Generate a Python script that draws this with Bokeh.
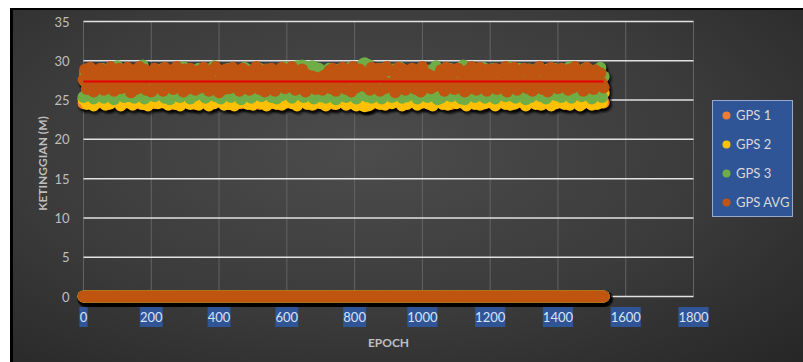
import math

from bokeh.plotting import figure
from bokeh.models import ColumnDataSource, Range1d, Legend, LegendItem
from bokeh.core.properties import value
from bokeh.transform import dodge
from bokeh.embed import file_html
from bokeh.resources import INLINE

# ---------------------------------------------------------------- data
# epoch index (every 5th epoch of the session)
epoch = list(range(0, 1540, 5))

gps1 = [
    24.6, 28.2, 26.0, 25.1, 27.5, 28.9, 24.8, 26.6, 27.8, 25.4, 24.7, 28.5, 26.3, 25.0,
    27.2, 24.5, 28.7, 25.8, 26.9, 24.9, 27.6, 28.4, 25.2, 24.6, 26.5, 28.0, 25.5, 24.8,
    28.6, 26.2, 24.7, 27.3, 25.6, 28.8, 24.5, 26.8, 27.9, 25.0, 24.9, 28.3, 26.4, 25.3,
    24.6, 27.7, 28.5, 25.2, 26.1, 24.8, 28.9, 27.0, 25.7, 24.5, 26.7, 28.1, 25.1, 24.7,
    27.4, 28.6, 25.4, 24.9, 26.3, 27.9, 24.6, 25.9, 28.4, 26.6, 24.5, 27.1, 28.7, 25.3,
    24.8, 26.5, 27.8, 25.0, 24.6, 28.2, 26.9, 25.5, 24.7, 27.5, 28.8, 25.8, 24.9, 26.2,
    28.0, 25.1, 24.5, 27.2, 26.4, 28.6, 24.8, 25.6, 27.7, 24.6, 26.1, 28.9, 25.4, 24.7,
    26.8, 28.3, 25.2, 24.9, 27.6, 26.0, 24.5, 28.5, 25.7, 24.8, 27.0, 28.1, 25.3, 24.6,
    27.9, 24.7, 26.6, 28.7, 25.0, 24.5, 27.3, 26.2, 28.4, 24.9, 25.8, 27.5, 24.6, 28.0,
    25.5, 24.8, 26.9, 28.6, 25.1, 27.4, 24.7, 26.3, 28.8, 25.6, 24.5, 27.8, 26.0, 24.9,
    28.2, 25.4, 24.6, 27.1, 26.7, 24.8, 28.5, 25.9, 24.5, 27.6, 26.4, 28.9, 25.0, 24.7,
    26.5, 28.0, 25.3, 24.9, 27.7, 26.1, 24.6, 28.4, 25.8, 24.7, 27.2, 24.5, 24.4, 28.1,
    24.6, 24.5, 26.8, 27.5, 25.2, 24.8, 28.6, 26.3, 25.0, 27.9, 24.6, 26.0, 28.3, 25.5,
    24.7, 27.3, 26.6, 24.9, 28.7, 25.4, 24.5, 27.0, 28.2, 25.7, 24.8, 26.9, 28.5, 25.1,
    24.6, 27.6, 28.0, 25.3, 24.7, 26.5, 28.8, 25.9, 24.5, 27.4, 26.2, 24.9, 28.4, 25.6,
    24.8, 26.7, 28.1, 25.0, 24.6, 27.8, 26.4, 24.5, 28.6, 25.5, 24.9, 27.2, 26.0, 28.9,
    25.2, 24.7, 27.5, 26.8, 24.8, 28.3, 25.7, 24.6, 27.1, 28.7, 25.4, 24.5, 26.6, 28.0,
    25.1, 24.9, 27.7, 26.1, 28.5, 24.6, 25.8, 27.3, 24.7, 26.9, 28.2, 25.0, 24.8, 27.6,
    26.3, 28.8, 24.5, 25.6, 27.9, 26.4, 24.9, 28.1, 25.3, 24.6, 27.0, 28.6, 25.7, 24.8,
    27.4, 25.9, 24.7, 28.4, 26.2, 24.5, 27.8, 25.2, 28.9, 24.8, 26.5, 27.1, 24.6, 25.8,
    28.3, 24.9, 26.7, 27.6, 24.6, 25.4, 28.0, 26.0, 24.7, 27.3, 28.7, 25.5, 24.5, 26.8,
    27.9, 25.1, 24.8, 28.2, 26.6, 24.6, 27.5, 25.7, 28.5, 24.9, 26.3, 27.7, 25.0, 24.7,
]

gps2 = [
    25.1, 27.4, 24.5, 26.8, 28.0, 25.6, 24.3, 27.1, 26.2, 24.8, 27.9, 25.3, 26.6, 24.4,
    27.6, 25.9, 24.6, 28.2, 26.4, 24.9, 27.3, 25.5, 24.3, 26.9, 28.1, 25.0, 24.7, 27.5,
    26.1, 24.4, 27.8, 25.7, 24.8, 26.5, 28.3, 24.5, 25.8, 27.2, 24.3, 26.7, 25.2, 24.9,
    27.7, 25.4, 24.6, 26.3, 28.0, 24.7, 25.9, 27.4, 24.4, 26.0, 25.1, 27.9, 24.5, 26.6,
    25.3, 24.3, 27.6, 26.2, 24.8, 28.2, 25.6, 24.5, 26.8, 27.3, 24.6, 25.8, 24.4, 27.0,
    26.4, 24.7, 25.5, 28.1, 24.3, 26.9, 25.2, 24.6, 27.7, 26.1, 24.9, 25.7, 28.0, 24.4,
    26.7, 25.0, 24.5, 27.5, 25.9, 24.3, 26.3, 28.2, 24.7, 25.4, 27.1, 24.8, 26.0, 24.5,
    27.8, 25.6, 24.4, 26.5, 24.9, 28.0, 25.3, 24.6, 27.2, 26.6, 24.3, 25.8, 27.6, 24.8,
    25.1, 26.9, 24.5, 27.9, 25.7, 24.4, 26.2, 28.3, 24.7, 25.5, 27.4, 24.6, 26.8, 25.0,
    24.3, 27.7, 26.1, 24.8, 25.4, 28.1, 24.5, 26.6, 27.3, 24.4, 25.9, 24.9, 27.8, 26.3,
    24.6, 25.2, 28.0, 24.3, 26.7, 25.6, 24.7, 27.5, 26.0, 24.5, 28.2, 25.3, 24.8, 26.9,
    25.7, 24.4, 27.2, 26.4, 24.6, 27.9, 25.1, 24.3, 26.8, 28.1, 24.9, 24.3, 24.2, 26.5,
    24.3, 24.4, 27.6, 25.5, 24.7, 28.0, 26.2, 24.5, 25.8, 27.4, 24.4, 26.6, 25.0, 27.8,
    24.6, 26.3, 28.2, 24.8, 25.4, 27.0, 24.3, 26.7, 25.9, 24.5, 27.7, 26.1, 24.9, 28.0,
    25.6, 24.4, 26.9, 27.5, 24.7, 25.2, 28.1, 24.6, 26.4, 25.8, 24.3, 27.3, 26.0, 24.8,
    27.9, 25.5, 24.5, 26.6, 28.2, 24.4, 25.7, 27.1, 24.9, 26.3, 24.6, 27.8, 25.3, 24.7,
    26.8, 28.0, 24.3, 25.9, 27.4, 24.8, 26.2, 24.5, 27.7, 25.6, 24.4, 28.1, 26.5, 24.6,
    25.1, 27.2, 24.7, 26.7, 25.4, 24.3, 27.9, 26.0, 24.9, 25.7, 28.3, 24.5, 26.4, 27.5,
    24.4, 25.8, 28.0, 24.6, 26.9, 25.2, 24.8, 27.6, 26.1, 24.3, 25.5, 27.3, 24.7, 26.6,
    28.2, 24.5, 25.9, 27.0, 24.4, 26.5, 25.3, 24.9, 27.8, 25.6, 24.3, 26.8, 28.0, 24.6,
    25.4, 27.5, 24.7, 26.2, 24.5, 28.1, 25.8, 24.4, 26.7, 27.2, 24.8, 25.1, 27.9, 24.3,
    26.3, 24.6, 27.7, 25.5, 24.9, 26.8, 24.4, 28.0, 25.7, 24.5, 27.1, 26.4, 24.7, 25.9,
]

gps3 = [
    25.4, 28.6, 27.1, 25.9, 28.9, 26.3, 25.2, 27.8, 28.4, 25.6, 26.7, 29.0, 25.3, 27.5,
    28.2, 25.8, 26.5, 28.8, 25.1, 27.3, 29.3, 25.7, 26.9, 28.5, 25.4, 27.9, 26.2, 25.5,
    28.7, 26.0, 25.3, 27.6, 28.9, 25.9, 26.6, 29.4, 25.2, 27.4, 28.1, 25.6, 26.8, 28.6,
    25.5, 27.2, 28.8, 25.8, 26.4, 29.0, 25.3, 27.7, 28.3, 25.1, 26.9, 28.7, 25.7, 27.0,
    28.4, 25.4, 26.7, 29.2, 25.9, 27.5, 28.0, 25.2, 26.3, 28.8, 25.6, 27.1, 29.0, 25.8,
    26.5, 28.6, 25.3, 27.8, 28.9, 25.7, 26.1, 29.3, 25.5, 27.3, 28.5, 25.2, 26.8, 28.2,
    25.9, 27.4, 29.0, 25.4, 26.6, 28.7, 25.8, 27.0, 28.4, 25.1, 26.9, 29.1, 25.6, 27.7,
    28.8, 25.3, 26.4, 28.1, 25.7, 27.6, 29.0, 25.5, 26.2, 28.6, 25.9, 27.2, 28.9, 25.4,
    26.7, 28.3, 25.2, 27.9, 28.7, 25.6, 26.0, 29.2, 25.8, 27.5, 28.1, 25.3, 26.6, 28.8,
    29.3, 25.7, 27.1, 29.4, 25.4, 26.8, 29.2, 25.9, 27.6, 29.3, 25.2, 29.1, 26.4, 29.0,
    25.5, 27.8, 28.6, 25.3, 26.9, 29.0, 25.8, 27.3, 28.4, 25.1, 26.5, 28.9, 25.6, 27.7,
    28.2, 25.4, 26.8, 29.1, 25.9, 27.4, 28.7, 25.2, 26.3, 28.5, 25.7, 29.6, 29.7, 25.5,
    29.5, 26.1, 25.3, 28.8, 27.0, 25.6, 28.3, 26.6, 25.2, 29.0, 27.5, 25.8, 28.4, 26.2,
    25.4, 28.9, 27.2, 25.7, 26.5, 29.1, 25.3, 27.9, 28.6, 25.5, 26.8, 28.2, 25.9, 27.4,
    28.7, 25.2, 26.6, 29.0, 25.8, 27.3, 28.5, 25.4, 26.9, 28.8, 25.6, 27.7, 29.3, 25.1,
    27.8, 25.3, 26.5, 28.6, 25.7, 27.1, 29.0, 25.5, 26.7, 28.3, 25.9, 27.6, 28.9, 25.2,
    29.4, 25.1, 26.4, 28.7, 25.8, 27.2, 28.9, 25.4, 26.8, 28.4, 25.6, 27.9, 29.1, 25.3,
    26.3, 28.5, 25.7, 27.0, 29.0, 25.2, 26.6, 28.8, 25.9, 27.4, 28.2, 25.5, 26.9, 29.2,
    25.6, 27.7, 28.6, 25.3, 26.2, 29.0, 25.8, 27.5, 28.3, 25.1, 26.7, 28.9, 25.4, 27.1,
    28.8, 25.9, 26.4, 29.1, 25.5, 27.6, 28.4, 25.2, 26.9, 28.7, 25.7, 27.3, 29.0, 25.6,
    26.1, 28.3, 25.4, 27.8, 28.9, 25.8, 26.5, 29.2, 25.3, 27.0, 28.6, 25.9, 26.7, 28.4,
    25.5, 27.4, 29.0, 25.7, 26.3, 28.8, 25.2, 27.6, 28.5, 25.8, 26.6, 29.1, 25.4, 28.0,
]

gps_avg = [
    27.6, 28.9, 26.4, 27.2, 29.1, 28.3, 26.1, 27.9, 28.6, 26.8, 29.0, 27.4, 26.3, 28.5,
    28.1, 26.6, 29.2, 27.0, 26.2, 28.7, 27.8, 29.0, 26.5, 27.5, 28.4, 26.9, 29.1, 27.3,
    26.0, 28.8, 27.7, 26.4, 28.2, 29.2, 26.7, 27.1, 28.9, 26.3, 27.9, 28.5, 26.1, 27.6,
    29.0, 27.2, 26.6, 28.6, 27.4, 26.2, 29.1, 28.0, 26.9, 27.7, 28.8, 26.4, 27.0, 29.2,
    26.8, 28.3, 27.5, 26.1, 28.9, 27.8, 26.5, 29.0, 27.1, 28.4, 26.3, 27.9, 28.7, 26.6,
    27.4, 29.1, 26.9, 28.1, 26.2, 27.6, 28.8, 26.7, 29.2, 27.3, 26.0, 28.5, 27.8, 26.4,
    28.9, 27.0, 26.5, 28.3, 29.1, 26.8, 27.5, 28.6, 26.2, 27.9, 29.0, 26.6, 28.2, 27.2,
    26.3, 28.7, 27.6, 26.9, 29.2, 27.1, 26.4, 28.4, 27.8, 26.1, 28.9, 27.4, 26.7, 29.0,
    27.7, 26.2, 28.6, 27.3, 26.8, 29.1, 28.0, 26.5, 27.2, 28.8, 26.9, 29.2, 27.5, 26.3,
    28.4, 27.0, 26.6, 28.9, 27.8, 26.1, 28.2, 27.4, 26.7, 28.0, 27.1, 26.4, 27.8, 26.9,
    27.5, 26.3, 28.1, 26.8, 27.6, 28.7, 26.5, 29.0, 27.3, 26.2, 28.6, 27.9, 26.7, 29.1,
    27.2, 26.4, 28.8, 27.7, 26.1, 29.2, 28.3, 26.6, 27.5, 28.9, 26.9, 27.4, 26.8, 27.9,
    28.5, 26.3, 29.1, 27.6, 26.7, 28.2, 29.0, 26.2, 27.8, 28.6, 26.5, 29.2, 27.1, 26.9,
    28.7, 27.3, 26.0, 28.4, 29.1, 26.6, 27.7, 28.9, 26.3, 27.2, 28.1, 26.8, 29.0, 27.5,
    26.4, 28.6, 27.9, 26.1, 29.2, 27.0, 26.7, 28.3, 27.6, 26.5, 28.0, 27.2, 26.8, 27.6,
    26.9, 28.8, 27.4, 26.2, 29.1, 28.2, 26.6, 27.8, 28.9, 26.4, 27.1, 29.0, 26.7, 28.5,
    27.3, 26.1, 28.7, 27.9, 26.5, 29.2, 27.0, 28.4, 26.3, 27.7, 29.1, 26.8, 28.1, 27.5,
    26.2, 28.9, 27.6, 26.7, 28.5, 29.0, 26.4, 27.2, 28.8, 26.9, 27.8, 29.2, 26.1, 28.3,
    27.4, 26.6, 29.1, 28.0, 26.3, 27.7, 28.6, 26.8, 29.0, 27.1, 26.5, 28.9, 27.9, 26.2,
    28.4, 27.5, 26.7, 29.2, 27.0, 26.4, 28.7, 27.8, 26.1, 28.2, 29.1, 26.9, 27.3, 28.8,
    26.5, 27.9, 29.0, 26.8, 28.3, 27.2, 26.3, 28.9, 27.6, 26.6, 29.2, 28.1, 26.9, 27.4,
    28.6, 26.2, 27.7, 29.1, 26.7, 28.0, 27.3, 26.4, 28.8, 27.5, 26.9, 28.4, 27.1, 26.6,
]

# each receiver also logged a row of zero heights over the same epochs
zero_height = [0.0] * len(epoch)

# linear trend of the averaged height
trend_level = 27.35

series_names = ["GPS 1", "GPS 2", "GPS 3", "GPS AVG"]
series_cols = ["gps1", "gps2", "gps3", "avg"]
series_colors = ["#ed7d31", "#ffc000", "#70ad47", "#bf5510"]

y_ticks = [0, 5, 10, 15, 20, 25, 30, 35]
y_tick_labels = [str(t) for t in y_ticks]
x_ticks = [0, 200, 400, 600, 800, 1000, 1200, 1400, 1600, 1800]
x_tick_labels = [str(t) for t in x_ticks]

x_title = "EPOCH"
y_title = "KETINGGIAN (M)"

# ---------------------------------------------------------------- layout
# The canvas starts 10px from the left / 8px from the top of the page.
# Plot area: epoch 0..1800 spans 610px starting at x=83,
# height 0..35 spans 275px with 0 at y=296 (page pixels).
W, H = 793, 354
LEFT, TOP = 10, 8
X0, XS = 83.0, 610.0 / 1800.0
Y0, YS = 296.0, 275.0 / 35.0


def data_x(px):
    return (px - X0) / XS


def data_y(py):
    return (Y0 - py) / YS


FONT = "Lato"
MARKER = 12

p = figure(
    frame_width=W, frame_height=H, min_border=0,
    x_range=Range1d(data_x(LEFT), data_x(LEFT + W)),
    y_range=Range1d(data_y(TOP + H), data_y(TOP)),
    x_axis_location=None, y_axis_location=None,
    output_backend="svg", toolbar_location=None,
)
p.margin = (TOP, 0, 0, LEFT)
p.background_fill_color = None
p.border_fill_color = None
p.outline_line_color = None
p.styles = {
    "background": "radial-gradient(ellipse farthest-corner at 45% 40%, "
                  "#4c4c4c 0%, #3b3b3b 55%, #262626 100%)",
    "box-shadow": "inset 3px 2px 0 #000000",
}
p.grid.visible = False

# gridlines across the 0..1800 / 0..35 plot area
p.segment(x0=x_ticks, y0=y_ticks[0], x1=x_ticks, y1=y_ticks[-1],
          line_color="#636363", line_width=1)
p.segment(x0=x_ticks[0], y0=y_ticks, x1=x_ticks[-1], y1=y_ticks,
          line_color="#e2e2e2", line_width=1.5)

src = ColumnDataSource(dict(
    epoch=epoch, gps1=gps1, gps2=gps2, gps3=gps3, avg=gps_avg,
    zero=zero_height,
))

# soft drop shadow under every series
for col in series_cols:
    for ycol in (col, "zero"):
        p.scatter(x=dodge("epoch", 5.0), y=dodge(ycol, -0.32),
                  size=MARKER + 4, fill_color="black", line_color=None,
                  fill_alpha=0.18, source=src)
        p.scatter(x=dodge("epoch", 4.0), y=dodge(ycol, -0.28),
                  size=MARKER + 1, fill_color="black", line_color=None,
                  fill_alpha=0.45, source=src)

legend_items = []
for name, col, color in zip(series_names, series_cols, series_colors):
    p.scatter("epoch", "zero", size=MARKER, fill_color=color, line_color=None,
              source=src)
    r = p.scatter("epoch", col, size=MARKER, fill_color=color, line_color=None,
                  source=src)
    legend_items.append(LegendItem(label=name, renderers=[r]))

# trend line
p.line(x=[epoch[0], epoch[-1]], y=[trend_level, trend_level],
       line_color="#e60000", line_width=2)

# ---------------------------------------------------------------- axis text
p.text(x=0, y=y_ticks, text=y_tick_labels, x_offset=-14,
       text_align="right", text_baseline="middle",
       text_font=value(FONT), text_font_size="13px", text_color="#bfbfbf")

x_label_y = data_y(316.5)
box_widths = [7.3 * len(s) + 1 for s in x_tick_labels]
p.rect(x=x_ticks, y=x_label_y, width=box_widths, height=20,
       width_units="screen", height_units="screen",
       fill_color="#2f5597", line_color=None)
p.text(x=x_ticks, y=x_label_y, text=x_tick_labels,
       text_align="center", text_baseline="middle",
       text_font=value(FONT), text_font_size="13px", text_color="#dae3f3")

p.text(x=[(x_ticks[0] + x_ticks[-1]) / 2], y=[data_y(341.5)], text=[x_title],
       text_align="center", text_baseline="middle",
       text_font=value(FONT), text_font_size="12px", text_font_style="bold",
       text_color="#bfbfbf")
p.text(x=[data_x(42)], y=[data_y(163)], text=[y_title], angle=math.pi / 2,
       text_align="center", text_baseline="middle",
       text_font=value(FONT), text_font_size="12px", text_font_style="bold",
       text_color="#bfbfbf")

# ---------------------------------------------------------------- legend
legend = Legend(
    items=legend_items, location=(712 - LEFT, TOP + H - 217),
    orientation="vertical", margin=0, padding=3, spacing=7,
    glyph_width=20, glyph_height=22, label_height=22, label_standoff=0,
    label_text_font=FONT, label_text_font_size="13px",
    label_text_color="#d9d9d9",
    background_fill_color="#2f5597", background_fill_alpha=1.0,
    border_line_color="white", border_line_width=1.5,
)
p.add_layout(legend, "center")

open("out.html", "w").write(file_html(p, INLINE))
